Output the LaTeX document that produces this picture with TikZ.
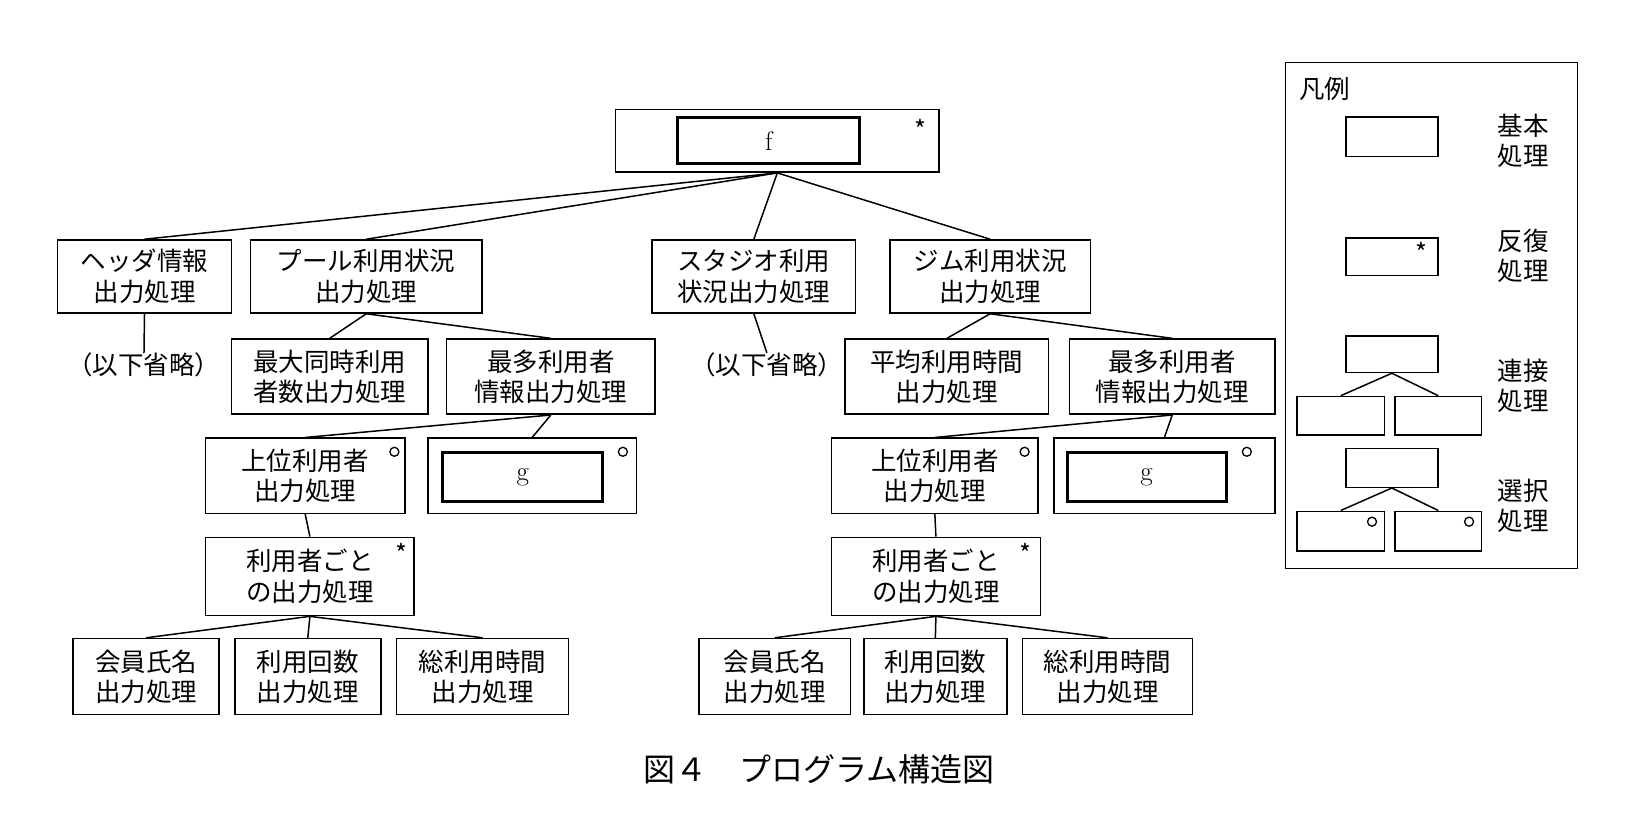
\documentclass[tikz,border=0pt]{standalone}
\usepackage{fontspec}
\newfontfamily\cjk{Noto Sans CJK JP}
\begin{document}
\begin{tikzpicture}[x=1.0434pt,y=-1.0434pt,
  bx/.style={draw,line width=1.5pt,inner sep=0pt,align=center,font=\cjk\fontsize{25.5}{30.5}\selectfont},
  ib/.style={draw,line width=3pt,inner sep=0pt,font=\fontsize{27}{31}\selectfont},
  ln/.style={line width=1.5pt},
  txt/.style={inner sep=0pt,align=center,font=\cjk\fontsize{25.5}{30.5}\selectfont},
  circ/.style={draw,circle,line width=1.3pt,minimum size=9pt,inner sep=0pt}]
\useasboundingbox (0,0) rectangle (1568,786);
\newcommand{\B}[7]{\node[bx,minimum width={(#4-#2)*1.0434},minimum height={(#5-#3)*1.0434}] (#1) at ({(#2+#4)/2},{(#3+#5)/2}) {#6#7};}
% top
\B{f}{590}{105}{900}{165}{}{}
\node[ib,minimum width=182,minimum height=46] (fi) at (737,135) {f};
\node[txt] (fs) at (882,124) {*};
% level 2
\B{hd}{55}{230}{222}{300}{ヘッダ情報\\出力処理}{}
\B{pl}{240}{230}{462}{300}{プール利用状況\\出力処理}{}
\B{st}{625}{230}{820}{300}{スタジオ利用\\状況出力処理}{}
\B{gm}{853}{230}{1045}{300}{ジム利用状況\\出力処理}{}
\foreach \n in {hd,pl,st,gm} \draw[ln] (f.south) -- (\n.north);
\node[txt] (o1) at (138,350) {（以下省略）};
\node[txt] (o2) at (735,350) {（以下省略）};
\draw[ln] (hd.south) -- (o1.north);
\draw[ln] (st.south) -- (o2.north);
% level 3
\B{mx}{222}{325}{410}{397}{最大同時利用\\者数出力処理}{}
\B{pm}{428}{325}{628}{397}{最多利用者\\情報出力処理}{}
\B{av}{810}{325}{1005}{397}{平均利用時間\\出力処理}{}
\B{gmm}{1025}{325}{1222}{397}{最多利用者\\情報出力処理}{}
\draw[ln] (pl.south) -- (mx.north); \draw[ln] (pl.south) -- (pm.north);
\draw[ln] (gm.south) -- (av.north); \draw[ln] (gm.south) -- (gmm.north);
% level 4
\B{pu}{197}{420}{388}{492}{上位利用者\\出力処理}{}
\node[circ] (pc1) at (378,433) {};
\B{pg}{410}{420}{610}{492}{}{}
\node[ib,minimum width=160,minimum height=49] (pgi) at (501,457) {g};
\node[circ] (pc2) at (597,433) {};
\B{gu}{797}{420}{995}{492}{上位利用者\\出力処理}{}
\node[circ] (gc1) at (982,433) {};
\B{gg}{1010}{420}{1222}{492}{}{}
\node[ib,minimum width=159,minimum height=49] (ggi) at (1099,457) {g};
\node[circ] (gc2) at (1195,433) {};
\draw[ln] (pm.south) -- (pu.north); \draw[ln] (pm.south) -- (pg.north);
\draw[ln] (gmm.south) -- (gu.north); \draw[ln] (gmm.south) -- (gg.north);
% level 5
\B{pe}{197}{515}{397}{590}{利用者ごと\\の出力処理}{}
\node[txt] (pes) at (385,530) {*};
\B{ge}{797}{515}{997}{590}{利用者ごと\\の出力処理}{}
\node[txt] (ges) at (983,530) {*};
\draw[ln] (pu.south) -- (pe.north); \draw[ln] (gu.south) -- (ge.north);
% level 6
\B{p1}{70}{612}{210}{685}{会員氏名\\出力処理}{}
\B{p2}{225}{612}{365}{685}{利用回数\\出力処理}{}
\B{p3}{380}{612}{545}{685}{総利用時間\\出力処理}{}
\B{g1}{670}{612}{815}{685}{会員氏名\\出力処理}{}
\B{g2}{828}{612}{965}{685}{利用回数\\出力処理}{}
\B{g3}{980}{612}{1143}{685}{総利用時間\\出力処理}{}
\foreach \n in {p1,p2,p3} \draw[ln] (pe.south) -- (\n.north);
\foreach \n in {g1,g2,g3} \draw[ln] (ge.south) -- (\n.north);
% caption
\node[txt,font=\cjk\fontsize{32}{36}\selectfont] (cap) at (785,737) {図４　プログラム構造図};
% legend
\B{lg}{1232}{60}{1512}{545}{}{}
\node[txt,anchor=west] (lt) at (1245,85) {凡例};
\B{l1}{1290}{112}{1378}{150}{}{}
\node[txt] (t1) at (1460,135) {基本\\処理};
\B{l2}{1290}{228}{1378}{264}{}{}
\node[txt] (l2s) at (1362,242) {*};
\node[txt] (t2) at (1460,245) {反復\\処理};
\B{l3}{1290}{322}{1378}{357}{}{}
\B{l3a}{1243}{380}{1327}{417}{}{}
\B{l3b}{1337}{380}{1420}{417}{}{}
\draw[ln] (l3.south) -- (l3a.north); \draw[ln] (l3.south) -- (l3b.north);
\node[txt] (t3) at (1460,370) {連接\\処理};
\B{l4}{1290}{430}{1378}{467}{}{}
\B{l4a}{1243}{490}{1327}{528}{}{}
\B{l4b}{1337}{490}{1420}{528}{}{}
\node[circ] (c4a) at (1315,500) {};
\node[circ] (c4b) at (1408,500) {};
\draw[ln] (l4.south) -- (l4a.north); \draw[ln] (l4.south) -- (l4b.north);
\node[txt] (t4) at (1460,485) {選択\\処理};
\end{tikzpicture}
\end{document}
